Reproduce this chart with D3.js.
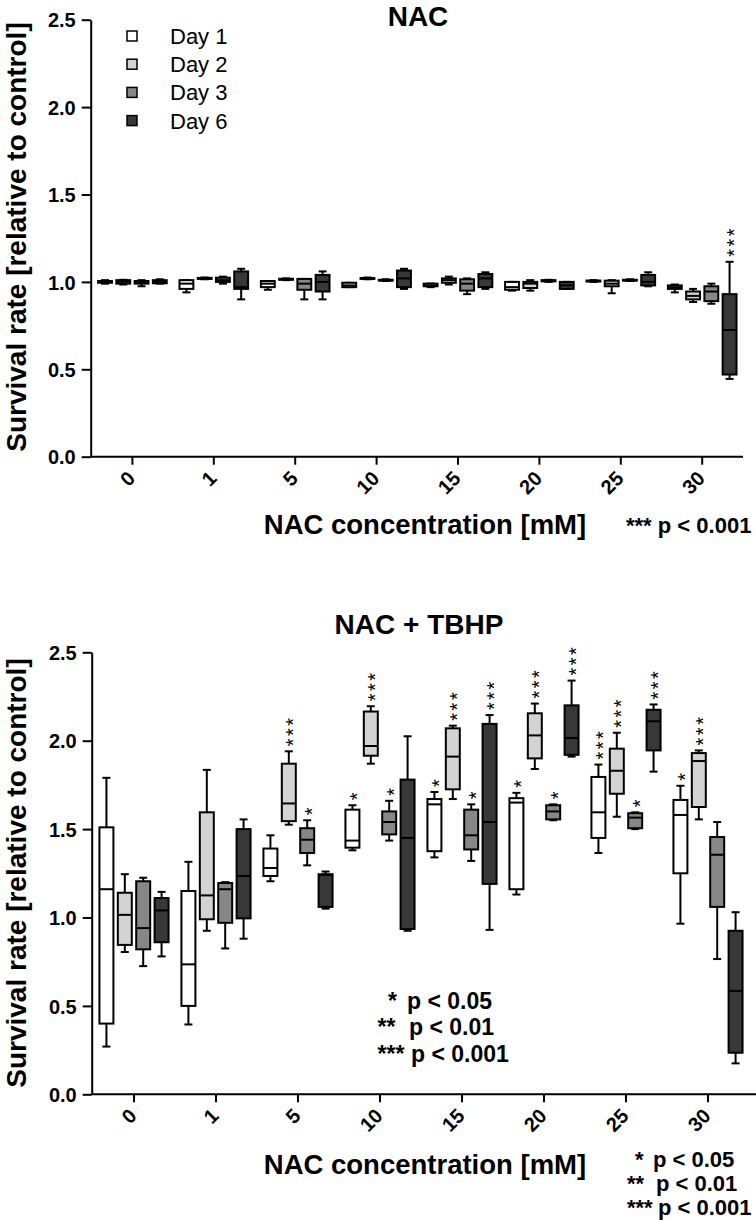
<!DOCTYPE html>
<html><head><meta charset="utf-8">
<script src="https://cdn.jsdelivr.net/npm/d3@7"></script>
<style>
body{margin:0;background:#fff}
svg{display:block}
text{font-family:"Liberation Sans",Arial,Helvetica,sans-serif;fill:#000}
</style></head><body>
<svg id="chart" width="756" height="1220"></svg>
<script>
const concentrations = ["0","1","5","10","15","20","25","30"];
const days = ["Day 1","Day 2","Day 3","Day 6"];
const dayColors = ["#ffffff","#d3d3d3","#878787","#383838"];
const yTicks = [0, 0.5, 1.0, 1.5, 2.0, 2.5];

// NAC alone: [min, q1, median, q3, max] per concentration
const nacDay1 = [[0.99,0.995,1.0,1.005,1.01],[0.94,0.96,0.99,1.01,1.01],[0.955,0.97,0.99,1.005,1.005],[0.97,0.97,0.98,0.995,0.995],[0.97,0.975,0.98,0.99,0.99],[0.95,0.955,0.97,1.0,1.0],[1.0,1.002,1.005,1.008,1.01],[0.94,0.96,0.97,0.98,0.985]];
const nacDay2 = [[0.985,0.99,1.0,1.01,1.012],[1.015,1.017,1.02,1.023,1.025],[1.01,1.012,1.015,1.018,1.02],[1.015,1.017,1.02,1.022,1.025],[0.985,0.995,1.01,1.02,1.03],[0.95,0.965,0.99,1.0,1.01],[0.935,0.975,0.99,1.007,1.01],[0.885,0.90,0.92,0.945,0.96]];
const nacDay3 = [[0.975,0.99,1.0,1.005,1.01],[0.99,1.0,1.01,1.024,1.03],[0.90,0.955,0.99,1.017,1.017],[1.005,1.007,1.01,1.012,1.015],[0.93,0.95,0.99,1.015,1.02],[1.0,1.003,1.007,1.01,1.012],[1.005,1.007,1.01,1.012,1.015],[0.875,0.89,0.945,0.975,0.99]];
const nacDay6 = [[0.99,0.992,1.0,1.01,1.015],[0.90,0.96,0.97,1.06,1.075],[0.90,0.945,1.0,1.04,1.06],[0.96,0.97,1.02,1.065,1.075],[0.96,0.97,1.02,1.045,1.055],[0.96,0.96,0.98,1.0,1.0],[0.975,0.98,1.0,1.04,1.055],[0.445,0.47,0.725,0.93,1.115]];
const nacSig = [["","","","","","","",""],["","","","","","","",""],["","","","","","","",""],["","","","","","","","***"]];

// NAC + TBHP: [min, q1, median, q3, max] per concentration
const tbhpDay1 = [[0.27,0.40,1.16,1.51,1.79],[0.395,0.50,0.735,1.15,1.315],[1.205,1.235,1.28,1.39,1.465],[1.38,1.395,1.435,1.61,1.635],[1.34,1.375,1.64,1.67,1.71],[1.13,1.16,1.65,1.675,1.705],[1.365,1.45,1.595,1.795,1.865],[0.965,1.25,1.58,1.665,1.745]];
const tbhpDay2 = [[0.805,0.845,1.015,1.14,1.245],[0.925,0.99,1.125,1.595,1.835],[1.525,1.545,1.645,1.87,1.94],[1.87,1.915,1.97,2.165,2.195],[1.67,1.725,1.91,2.07,2.085],[1.84,1.90,2.03,2.155,2.21],[1.57,1.70,1.83,1.955,2.045],[1.555,1.625,1.885,1.93,1.945]];
const tbhpDay3 = [[0.725,0.82,0.94,1.205,1.225],[0.825,0.97,1.16,1.195,1.20],[1.295,1.365,1.44,1.505,1.55],[1.435,1.47,1.54,1.60,1.66],[1.32,1.385,1.465,1.61,1.64],[1.55,1.555,1.60,1.635,1.64],[1.50,1.505,1.565,1.59,1.595],[0.765,1.06,1.355,1.455,1.54]];
const tbhpDay6 = [[0.78,0.86,1.04,1.11,1.145],[0.88,0.995,1.235,1.50,1.555],[1.05,1.06,1.24,1.245,1.26],[0.925,0.935,1.45,1.78,2.025],[0.93,1.19,1.54,2.095,2.145],[1.91,1.92,2.015,2.20,2.34],[1.825,1.945,2.11,2.175,2.205],[0.175,0.235,0.585,0.925,1.03]];
const tbhpSig = [["","","","*","*","*","***","*"],["","","***","***","***","***","***","***"],["","","*","*","*","*","*",""],["","","","","***","***","***",""]];

const pLegend = [["*","p < 0.05"],["**","p < 0.01"],["***","p < 0.001"]];

const svg = d3.select("#chart");

function drawPanel(cfg){
  const g = svg.append("g");
  const y = d3.scaleLinear().domain([0,2.5]).range([cfg.yBottom, cfg.yTop]);
  const x = d3.scaleBand().domain(concentrations).range([cfg.bandStart, cfg.bandStart + cfg.step*concentrations.length]).padding(0);
  const xi = d3.scaleBand().domain(d3.range(days.length)).range([0, x.bandwidth()]).paddingInner(0.24).paddingOuter(0.35);
  const bw = xi.bandwidth();
  const capW = 8;
  const starFs = 20;

  cfg.series.forEach((ser, di) => {
    ser.forEach((s, ci) => {
      const cx = x(concentrations[ci]) + xi(di) + bw/2;
      const [mn,q1,md,q3,mx] = s;
      const bg = g.append("g");
      bg.append("line").attr("x1",cx).attr("x2",cx).attr("y1",y(mx)).attr("y2",y(q3)).attr("stroke","#000").attr("stroke-width",2);
      bg.append("line").attr("x1",cx).attr("x2",cx).attr("y1",y(q1)).attr("y2",y(mn)).attr("stroke","#000").attr("stroke-width",2);
      bg.append("line").attr("x1",cx-capW/2).attr("x2",cx+capW/2).attr("y1",y(mx)).attr("y2",y(mx)).attr("stroke","#000").attr("stroke-width",2);
      bg.append("line").attr("x1",cx-capW/2).attr("x2",cx+capW/2).attr("y1",y(mn)).attr("y2",y(mn)).attr("stroke","#000").attr("stroke-width",2);
      bg.append("rect").attr("x",cx-bw/2).attr("width",bw).attr("y",y(q3)).attr("height",Math.max(0.5,y(q1)-y(q3)))
        .attr("fill",dayColors[di]).attr("stroke","#000").attr("stroke-width",2);
      bg.append("line").attr("x1",cx-bw/2).attr("x2",cx+bw/2).attr("y1",y(md)).attr("y2",y(md)).attr("stroke","#000").attr("stroke-width",2);
      const sig = cfg.sig[di][ci];
      if (sig) {
        // stacked asterisks: one text, rotated so it reads upward
        g.append("text").attr("transform",`translate(${cx + 0.58*starFs},${y(mx) - 5})rotate(-90)`)
          .attr("text-anchor","start").style("font-size",starFs+"px").style("letter-spacing","2.5px").text(sig);
      }
    });
  });

  const ya = g.append("g").attr("transform",`translate(${cfg.yAxisX},0)`)
    .call(d3.axisLeft(y).tickValues(yTicks).tickFormat(d3.format(".1f")).tickSize(9).tickSizeOuter(0).tickPadding(6));
  ya.select(".domain").attr("stroke-width",2);
  ya.selectAll(".tick line").attr("stroke-width",2);
  ya.selectAll(".tick text").style("font-size","20px").style("font-weight","bold").attr("dy","0.36em");

  const xa = g.append("g").attr("transform",`translate(0,${cfg.yBottom})`)
    .call(d3.axisBottom(x).tickSize(8).tickSizeOuter(0));
  xa.select(".domain").attr("d",`M${cfg.yAxisX},0H${cfg.axisEnd}`).attr("stroke-width",2);
  xa.selectAll(".tick line").attr("stroke-width",2);
  xa.selectAll(".tick text").style("font-size","20px").style("font-weight","bold")
    .attr("text-anchor","end").attr("y",null).attr("dy","0.35em")
    .attr("transform","translate(-1,18) rotate(-45)");

  g.append("text").attr("x",cfg.titleX).attr("y",cfg.titleY).attr("text-anchor","middle")
    .style("font-size","28px").style("font-weight","bold").text(cfg.title);
  g.append("text").attr("transform",`translate(25.5,${cfg.yTitleY}) rotate(-90)`).attr("text-anchor","middle")
    .style("font-size","28px").style("font-weight","bold").text("Survival rate [relative to control]");
  g.append("text").attr("x",425).attr("y",cfg.yBottom+cfg.xTitleDy).attr("text-anchor","middle")
    .style("font-size","27.5px").style("font-weight","bold").text("NAC concentration [mM]");
  return {g, x, y};
}

drawPanel({series:[nacDay1,nacDay2,nacDay3,nacDay6], sig:nacSig, yAxisX:90.7, yTop:19.7, yBottom:456.7,
  bandStart:91.7, step:81.4, axisEnd:743, title:"NAC", titleX:418, titleY:26, yTitleY:237, xTitleDy:77});
drawPanel({series:[tbhpDay1,tbhpDay2,tbhpDay3,tbhpDay6], sig:tbhpSig, yAxisX:91.7, yTop:652.3, yBottom:1094.3,
  bandStart:93, step:82, axisEnd:756, title:"NAC + TBHP", titleX:419, titleY:634, yTitleY:873, xTitleDy:80});

const leg = svg.append("g");
days.forEach((d,i)=>{
  const cy = 36 + i*28.2;
  leg.append("rect").attr("x",127).attr("y",cy-5).attr("width",10).attr("height",10)
    .attr("fill",dayColors[i]).attr("stroke","#000").attr("stroke-width",1.5);
  leg.append("text").attr("x",170).attr("y",cy).attr("dy","0.36em").style("font-size","22px").text(d);
});

svg.append("text").attr("x",626).attr("y",533).style("font-size","22px").style("font-weight","bold").text("*** p < 0.001");

const midStarX = [388,377.5,377.5], midPX = [407,409,411], midY = [1009,1035,1062];
pLegend.forEach((p,i)=>{
  svg.append("text").attr("x",midStarX[i]).attr("y",midY[i]).style("font-size","23px").style("font-weight","bold").text(p[0]);
  svg.append("text").attr("x",midPX[i]).attr("y",midY[i]).style("font-size","23px").style("font-weight","bold").text(p[1]);
});
const rStarX = [635,627,627], rPX = [653,656,658], rY = [1167,1191,1215];
pLegend.forEach((p,i)=>{
  svg.append("text").attr("x",rStarX[i]).attr("y",rY[i]).style("font-size","22px").style("font-weight","bold").text(p[0]);
  svg.append("text").attr("x",rPX[i]).attr("y",rY[i]).style("font-size","22px").style("font-weight","bold").text(p[1]);
});
</script>
</body></html>
